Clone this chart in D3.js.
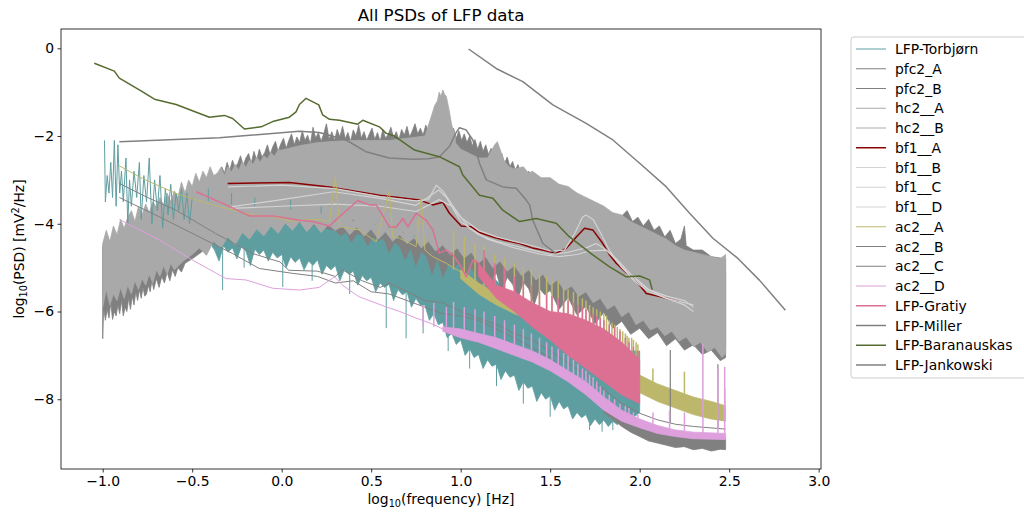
<!DOCTYPE html>
<html><head><meta charset="utf-8">
<script src="https://cdn.jsdelivr.net/npm/d3@7"></script>
<style>body{margin:0;background:#fff}svg{display:block}text{font-family:"DejaVu Sans",sans-serif;fill:#000}</style>
</head><body><svg id="c" width="1024" height="512"></svg>
<script>
// ---------------- DATA (log10 frequency, log10 PSD) ----------------
const seriesNames = ["LFP-Torbjørn","pfc2_A","pfc2_B","hc2__A","hc2__B","bf1__A","bf1__B","bf1__C","bf1__D","ac2__A","ac2__B","ac2__C","ac2__D","LFP-Gratiy","LFP-Miller","LFP-Baranauskas","LFP-Jankowski"];
const xTicks = [-1.0,-0.5,0.0,0.5,1.0,1.5,2.0,2.5,3.0];
const yTicks = [-8,-6,-4,-2,0];

// LFP-Torbjørn
const torbLow = [[-0.99,-2.1],[-0.985,-3.5],[-0.975,-2.9],[-0.965,-3.3],[-0.955,-2.6],[-0.945,-3.4],[-0.935,-2.1],[-0.925,-3.6],[-0.915,-2.2],[-0.905,-3.3],[-0.895,-2.8],[-0.885,-3.5],[-0.87,-2.5],[-0.86,-4.0],[-0.85,-3.0],[-0.84,-3.6],[-0.825,-2.8],[-0.81,-3.4],[-0.795,-2.6],[-0.785,-3.9],[-0.77,-2.9],[-0.755,-3.5],[-0.74,-2.5],[-0.725,-4.0],[-0.71,-3.0],[-0.695,-3.7],[-0.68,-2.9],[-0.665,-4.1],[-0.65,-3.2],[-0.635,-3.8],[-0.62,-3.1],[-0.605,-3.9],[-0.59,-3.3],[-0.575,-3.7],[-0.56,-3.2],[-0.545,-3.9],[-0.53,-3.3],[-0.515,-4.0],[-0.5,-3.4]];
const torbUpper = [[-0.5,-3.4],[-0.4,-3.5],[-0.3,-3.55],[-0.2,-3.6],[-0.1,-3.6],[0.0,-3.65],[0.1,-3.7],[0.27,-3.8],[0.4,-3.9],[0.55,-4.05],[0.7,-4.2],[0.83,-4.4],[0.9,-4.55],[0.95,-4.5],[1.0,-4.75],[1.05,-4.7],[1.1,-4.9],[1.25,-5.5],[1.44,-6.0],[1.63,-6.35],[1.81,-6.8],[1.9,-6.9],[2.0,-6.9]];
const torbLower = [[-0.500,-4.30],[-0.475,-4.55],[-0.450,-4.40],[-0.425,-4.70],[-0.400,-4.45],[-0.375,-4.60],[-0.350,-4.85],[-0.325,-4.50],[-0.300,-4.65],[-0.275,-4.55],[-0.250,-4.80],[-0.225,-4.52],[-0.200,-4.62],[-0.175,-4.95],[-0.150,-4.58],[-0.125,-4.70],[-0.100,-4.60],[-0.075,-4.85],[-0.050,-4.65],[-0.025,-4.78],[0.000,-4.70],[0.025,-5.00],[0.050,-4.75],[0.075,-4.88],[0.100,-4.78],[0.125,-5.05],[0.150,-4.85],[0.175,-4.95],[0.200,-4.82],[0.225,-5.15],[0.250,-4.95],[0.275,-5.05],[0.300,-4.95],[0.325,-5.30],[0.350,-5.05],[0.375,-5.15],[0.400,-5.08],[0.425,-5.40],[0.450,-5.18],[0.475,-5.30],[0.500,-5.22],[0.525,-5.55],[0.550,-5.35],[0.575,-5.45],[0.600,-5.38],[0.625,-5.75],[0.650,-5.50],[0.675,-5.62],[0.700,-5.55],[0.725,-5.90],[0.750,-5.70],[0.775,-5.85],[0.800,-5.85],[0.825,-6.20],[0.850,-6.05],[0.875,-6.30],[0.900,-6.25],[0.925,-6.60],[0.950,-6.50],[0.975,-6.75],[1.000,-6.65],[1.025,-7.00],[1.050,-6.85],[1.075,-7.05],[1.100,-6.98],[1.125,-7.30],[1.150,-7.10],[1.175,-7.25],[1.200,-7.20],[1.225,-7.55],[1.250,-7.35],[1.275,-7.50],[1.300,-7.45],[1.325,-7.80],[1.350,-7.60],[1.375,-7.75],[1.400,-7.70],[1.425,-8.05],[1.450,-7.85],[1.475,-8.00],[1.500,-7.92],[1.525,-8.25],[1.550,-8.05],[1.575,-8.22],[1.600,-8.15],[1.625,-8.45],[1.650,-8.30],[1.675,-8.42],[1.700,-8.35],[1.725,-8.60],[1.750,-8.45],[1.775,-8.58],[1.800,-8.48],[1.825,-8.62],[1.850,-8.50],[1.875,-8.58],[1.900,-8.42],[1.925,-8.52],[1.950,-8.45],[1.975,-8.38],[2.000,-8.30]];
const torbDownX = [-0.33,-0.21,0.006,0.17,0.38,0.584,0.695,0.79,0.93,1.05,1.2,1.35,1.5,1.72,1.79,1.85];
const torbDownY = [-5.51,-5.0,-5.44,-5.3,-5.6,-6.38,-6.61,-6.5,-6.9,-7.3,-7.7,-8.1,-8.4,-8.7,-8.74,-8.7];
const torbUpX = [-0.41,-0.28,-0.15,0.05,0.22,0.32,0.4,0.52,0.6,0.68,0.74];
const torbUpY = [-3.2,-3.3,-3.4,-3.45,-3.6,-3.85,-3.95,-4.0,-4.05,-4.2,-4.3];

// pfc2_A (darker noisy band, edges show above the light band)
const pfc2AUpper = [[-1.0,-4.5],[-0.6,-3.6],[-0.35,-2.9],[-0.335,-2.70],[-0.32,-2.85],[-0.305,-2.60],[-0.29,-2.78],[-0.275,-2.55],[-0.26,-2.72],[-0.245,-2.62],[-0.23,-2.45],[-0.215,-2.68],[-0.20,-2.50],[-0.185,-2.40],[-0.17,-2.62],[-0.155,-2.35],[-0.14,-2.55],[-0.125,-2.30],[-0.11,-2.48],[-0.095,-2.38],[-0.08,-2.20],[-0.065,-2.42],[-0.05,-2.25],[-0.035,-2.12],[-0.02,-2.35],[-0.005,-2.18],[0.01,-2.05],[0.025,-2.28],[0.04,-2.10],[0.055,-1.95],[0.07,-2.20],[0.085,-2.02],[0.10,-2.15],[0.115,-1.88],[0.13,-2.10],[0.145,-1.98],[0.16,-2.18],[0.175,-1.80],[0.19,-2.05],[0.205,-1.92],[0.22,-2.12],[0.235,-1.95],[0.25,-1.72],[0.265,-2.08],[0.28,-1.90],[0.295,-2.10],[0.31,-1.85],[0.325,-2.02],[0.34,-1.78],[0.355,-2.06],[0.37,-1.92],[0.385,-2.12],[0.40,-1.86],[0.415,-2.00],[0.43,-1.75],[0.445,-2.05],[0.46,-1.90],[0.475,-2.10],[0.49,-1.95],[0.505,-1.82],[0.52,-2.08],[0.535,-1.92],[0.55,-2.12],[0.565,-1.85],[0.58,-2.05],[0.595,-1.96],[0.61,-1.80],[0.625,-2.04],[0.64,-1.90],[0.655,-2.08],[0.67,-1.85],[0.685,-1.98],[0.70,-1.78],[0.715,-2.02],[0.73,-1.88],[0.745,-1.72],[0.76,-1.95],[0.775,-1.82],[0.79,-1.98],[0.805,-1.75],[0.82,-1.90],[0.835,-1.70],[0.85,-1.85],[0.87,-1.75],[0.89,-1.80],[0.91,-1.70],[0.93,-1.85],[0.945,-1.95],[0.96,-1.82],[0.975,-2.05],[0.99,-1.88],[1.005,-2.10],[1.02,-1.95],[1.035,-2.15],[1.05,-2.00],[1.065,-2.22],[1.08,-2.08],[1.095,-2.30],[1.11,-2.12],[1.125,-2.35],[1.14,-2.20],[1.155,-2.42],[1.17,-2.28],[1.185,-2.45],[1.20,-2.35],[1.215,-2.55],[1.23,-2.40],[1.245,-2.62],[1.26,-2.48],[1.275,-2.70],[1.29,-2.58],[1.305,-2.78],[1.32,-2.65],[1.335,-2.85],[1.35,-2.75],[1.365,-2.92],[1.38,-2.80],[1.40,-2.98],[1.42,-2.88],[1.45,-3.05],[1.5,-3.1],[1.6,-3.3],[1.7,-3.5],[1.8,-3.7],[1.9,-3.82],[1.93,-3.7],[1.96,-3.95],[1.99,-3.85],[2.02,-4.05],[2.05,-3.9],[2.08,-4.15],[2.11,-4.05],[2.14,-4.3],[2.17,-4.15],[2.2,-4.45],[2.23,-4.35],[2.25,-4.05],[2.26,-4.5],[2.3,-4.6],[2.35,-4.6],[2.4,-4.75],[2.48,-4.8]];
const pfc2ALower = [[-1.0,-6.62],[-0.995,-5.9],[-0.985,-6.2],[-0.975,-5.95],[-0.965,-6.15],[-0.955,-5.8],[-0.945,-6.18],[-0.935,-6.0],[-0.925,-6.1],[-0.915,-5.85],[-0.905,-6.05],[-0.895,-5.75],[-0.885,-6.1],[-0.875,-5.9],[-0.865,-6.0],[-0.855,-5.7],[-0.845,-5.95],[-0.835,-5.65],[-0.825,-5.85],[-0.815,-5.55],[-0.805,-5.75],[-0.795,-5.5],[-0.785,-5.7],[-0.775,-5.45],[-0.765,-5.65],[-0.755,-5.6],[-0.745,-5.4],[-0.735,-5.55],[-0.725,-5.3],[-0.715,-5.5],[-0.70,-5.25],[-0.685,-5.45],[-0.67,-5.2],[-0.655,-5.35],[-0.64,-5.1],[-0.625,-5.3],[-0.61,-5.05],[-0.595,-5.2],[-0.58,-5.0],[-0.56,-5.1],[-0.54,-4.9],[-0.5,-4.8],[-0.4,-4.5],[-0.3,-4.2],[0.0,-3.8],[0.5,-3.9],[1.0,-4.4],[1.5,-5.0],[2.0,-6.0],[2.48,-6.8]];

// pfc2_B (darker noise below the main band)
const pfc2BUpper = [[-1.0,-4.6],[-0.5,-3.3],[0.0,-2.6],[0.3,-2.4],[0.8,-2.4],[1.3,-3.0],[2.0,-4.3],[2.48,-5.1]];
const pfc2BLower = [[-1.0,-5.6],[-0.5,-4.6],[0.0,-3.9],[0.30,-4.15],[0.33,-4.28],[0.36,-4.18],[0.39,-4.42],[0.42,-4.22],[0.45,-4.26],[0.48,-4.50],[0.51,-4.30],[0.54,-4.38],[0.57,-4.33],[0.60,-4.66],[0.63,-4.42],[0.66,-4.52],[0.69,-4.82],[0.72,-4.55],[0.75,-4.95],[0.78,-4.62],[0.81,-4.75],[0.84,-5.15],[0.87,-4.78],[0.90,-5.22],[0.93,-4.92],[0.96,-5.02],[0.99,-4.88],[1.02,-5.28],[1.05,-4.98],[1.08,-5.12],[1.11,-5.45],[1.14,-5.08],[1.17,-5.28],[1.20,-5.12],[1.23,-5.55],[1.26,-5.22],[1.29,-5.38],[1.32,-5.70],[1.35,-5.33],[1.38,-5.48],[1.41,-5.85],[1.44,-5.48],[1.47,-5.62],[1.50,-5.52],[1.55,-5.95],[1.60,-5.68],[1.65,-6.08],[1.70,-5.88],[1.75,-6.28],[1.80,-6.02],[1.85,-6.38],[1.90,-6.22],[1.95,-6.52],[2.00,-6.38],[2.05,-6.62],[2.10,-6.48],[2.15,-6.78],[2.20,-6.62],[2.25,-6.88],[2.30,-6.76],[2.35,-6.98],[2.40,-6.88],[2.45,-7.12],[2.48,-7.05]];

// hc2__A (main light band)
const hc2AUpper = [[-1.00,-4.45],[-0.98,-4.15],[-0.96,-4.40],[-0.94,-4.05],[-0.92,-4.25],[-0.90,-3.90],[-0.88,-4.10],[-0.86,-3.85],[-0.84,-3.70],[-0.82,-3.95],[-0.80,-3.60],[-0.78,-3.80],[-0.76,-3.55],[-0.74,-3.75],[-0.72,-3.50],[-0.70,-3.62],[-0.68,-3.40],[-0.66,-3.58],[-0.64,-3.30],[-0.62,-3.50],[-0.60,-3.25],[-0.58,-3.40],[-0.56,-3.05],[-0.54,-3.30],[-0.52,-3.00],[-0.50,-3.15],[-0.48,-2.85],[-0.46,-3.05],[-0.44,-2.80],[-0.42,-2.95],[-0.40,-2.70],[-0.38,-2.90],[-0.36,-2.85],[-0.34,-2.72],[-0.32,-2.90],[-0.30,-2.70],[-0.28,-2.82],[-0.26,-2.65],[-0.24,-2.78],[-0.22,-2.58],[-0.20,-2.72],[-0.18,-2.55],[-0.16,-2.65],[-0.14,-2.48],[-0.12,-2.60],[-0.10,-2.45],[-0.08,-2.52],[-0.06,-2.38],[-0.04,-2.46],[-0.02,-2.32],[0.0,-2.32],[0.1,-2.22],[0.2,-2.15],[0.3,-2.12],[0.4,-2.1],[0.5,-2.1],[0.6,-2.1],[0.7,-2.05],[0.8,-2.0],[0.9,-2.0],[0.95,-2.05],[1.0,-2.3],[1.05,-2.4],[1.1,-2.5],[1.15,-2.5],[1.17,-2.35],[1.19,-2.2],[1.205,-2.13],[1.22,-2.3],[1.24,-2.55],[1.27,-2.7],[1.3,-2.75],[1.35,-2.7],[1.38,-2.85],[1.4,-2.8],[1.45,-2.95],[1.5,-2.95],[1.55,-3.1],[1.6,-3.15],[1.65,-3.3],[1.7,-3.4],[1.75,-3.5],[1.8,-3.6],[1.85,-3.75],[1.9,-3.8],[1.95,-3.95],[2.0,-4.05],[2.05,-4.15],[2.1,-4.25],[2.15,-4.35],[2.2,-4.5],[2.25,-4.6],[2.3,-4.65],[2.35,-4.7],[2.4,-4.75],[2.45,-4.8],[2.48,-4.7]];
const hc2ALower = [[-1.0,-5.9],[-0.98,-5.5],[-0.96,-5.85],[-0.94,-5.6],[-0.92,-5.75],[-0.90,-5.45],[-0.88,-5.7],[-0.86,-5.4],[-0.84,-5.6],[-0.82,-5.3],[-0.80,-5.5],[-0.78,-5.25],[-0.76,-5.4],[-0.74,-5.15],[-0.72,-5.35],[-0.70,-5.05],[-0.68,-5.2],[-0.66,-4.95],[-0.64,-5.15],[-0.62,-4.9],[-0.60,-5.05],[-0.55,-4.85],[-0.50,-4.70],[-0.46,-4.55],[-0.42,-4.72],[-0.38,-4.40],[-0.34,-4.55],[-0.30,-4.30],[-0.26,-4.48],[-0.22,-4.20],[-0.18,-4.35],[-0.14,-4.12],[-0.10,-4.28],[-0.06,-4.05],[-0.02,-4.22],[0.02,-3.98],[0.06,-4.15],[0.10,-3.95],[0.14,-4.18],[0.18,-4.00],[0.22,-4.20],[0.26,-4.02],[0.30,-4.15],[0.34,-4.05],[0.38,-4.25],[0.42,-4.08],[0.46,-4.28],[0.50,-4.12],[0.54,-4.35],[0.58,-4.18],[0.62,-4.40],[0.66,-4.25],[0.70,-4.45],[0.74,-4.32],[0.78,-4.55],[0.82,-4.40],[0.86,-4.62],[0.90,-4.48],[0.94,-4.70],[0.98,-4.55],[1.02,-4.78],[1.06,-4.65],[1.10,-4.90],[1.14,-4.75],[1.18,-5.00],[1.22,-4.85],[1.26,-5.08],[1.30,-4.95],[1.34,-5.18],[1.38,-5.05],[1.42,-5.28],[1.46,-5.15],[1.50,-5.40],[1.54,-5.28],[1.58,-5.52],[1.62,-5.42],[1.66,-5.65],[1.70,-5.55],[1.74,-5.80],[1.78,-5.70],[1.82,-5.95],[1.86,-5.85],[1.90,-6.12],[1.94,-6.00],[1.98,-6.30],[2.02,-6.20],[2.06,-6.42],[2.10,-6.35],[2.14,-6.55],[2.18,-6.45],[2.22,-6.68],[2.26,-6.58],[2.30,-6.80],[2.34,-6.70],[2.38,-6.92],[2.42,-6.82],[2.46,-7.05],[2.48,-6.95]];
// hc2__B (alpha peak)
const hc2BUpper = [[0.80,-2.0],[0.82,-1.75],[0.84,-1.5],[0.855,-1.3],[0.87,-1.2],[0.88,-1.0],[0.89,-1.1],[0.90,-0.95],[0.91,-1.05],[0.92,-1.1],[0.935,-1.4],[0.95,-1.75],[0.97,-2.0]];
const hc2BLower = [[0.80,-3.0],[0.97,-3.0]];

// bf1 series
const bf1A = [[-0.302,-3.08],[0.043,-3.06],[0.267,-3.16],[0.546,-3.35],[0.77,-3.46],[0.844,-3.57],[0.9,-3.51],[0.937,-3.76],[1.003,-4.05],[1.06,-4.07],[1.105,-4.2],[1.18,-4.30],[1.25,-4.38],[1.329,-4.45],[1.40,-4.55],[1.459,-4.60],[1.534,-4.67],[1.59,-4.56],[1.646,-4.30],[1.692,-4.10],[1.738,-4.14],[1.794,-4.45],[1.83,-4.7],[1.869,-4.90],[1.92,-5.1],[1.962,-5.21],[2.0,-5.4],[2.037,-5.59],[2.111,-5.66],[2.222,-5.78]];
const bf1B = [[-0.30,-3.16],[0.0,-3.12],[0.3,-3.2],[0.55,-3.38],[0.75,-3.48],[0.82,-3.45],[0.863,-3.12],[0.9,-3.25],[0.95,-3.55],[1.0,-3.85],[1.1,-4.15],[1.2,-4.3],[1.3,-4.4],[1.4,-4.5],[1.5,-4.62],[1.58,-4.6],[1.64,-4.2],[1.68,-3.85],[1.70,-3.80],[1.74,-3.9],[1.78,-4.2],[1.83,-4.6],[1.9,-5.0],[1.97,-5.3],[2.05,-5.55],[2.15,-5.7],[2.25,-5.8],[2.3,-5.85]];
const bf1C = [[-0.28,-3.61],[0.0,-3.45],[0.29,-3.27],[0.55,-3.42],[0.75,-3.58],[0.878,-3.23],[0.92,-3.4],[1.0,-3.95],[1.1,-4.25],[1.2,-4.4],[1.3,-4.5],[1.4,-4.6],[1.5,-4.7],[1.6,-4.65],[1.7,-4.55],[1.757,-4.45],[1.8,-4.55],[1.85,-4.75],[1.95,-5.2],[2.05,-5.5],[2.15,-5.65],[2.25,-5.75],[2.3,-5.9]];
const bf1D = [[-0.28,-3.65],[0.0,-3.6],[0.3,-3.55],[0.55,-3.6],[0.75,-3.72],[0.88,-3.45],[0.95,-3.6],[1.05,-4.1],[1.15,-4.35],[1.3,-4.55],[1.45,-4.7],[1.55,-4.75],[1.65,-4.7],[1.72,-4.62],[1.813,-4.60],[1.87,-4.8],[1.95,-5.15],[2.05,-5.5],[2.15,-5.7],[2.25,-5.85],[2.3,-6.0]];

// ac2 series
const ac2ALine = [[-0.907,-2.68],[-0.777,-2.97],[-0.59,-3.31],[-0.442,-3.50],[-0.311,-3.65],[-0.162,-3.80],[-0.05,-3.84],[0.061,-3.95],[0.099,-3.92],[0.21,-3.90],[0.267,-3.95],[0.30,-2.93],[0.323,-4.07],[0.434,-4.14],[0.528,-4.41],[0.602,-3.23],[0.62,-4.3],[0.658,-4.33],[0.751,-4.52],[0.779,-3.42],[0.80,-4.6],[0.844,-4.75],[0.919,-4.90],[1.012,-5.13]];
const ac2AUpper = [[1.0,-5.05],[1.1,-5.35],[1.2,-5.6],[1.3,-5.8],[1.4,-5.95],[1.5,-6.1],[1.6,-6.3],[1.7,-6.5],[1.8,-6.75],[1.9,-7.1],[2.0,-7.45],[2.05,-7.55],[2.1,-7.65],[2.2,-7.8],[2.3,-7.95],[2.4,-8.05],[2.48,-8.15]];
const ac2ALower = [[1.0,-5.25],[1.1,-5.6],[1.2,-5.85],[1.3,-6.05],[1.4,-6.2],[1.5,-6.4],[1.6,-6.6],[1.7,-6.85],[1.8,-7.1],[1.9,-7.45],[2.0,-7.85],[2.05,-7.95],[2.1,-8.05],[2.2,-8.2],[2.3,-8.35],[2.4,-8.45],[2.48,-8.5]];
const harmX = [0.96,1.02,1.08,1.13,1.19,1.245,1.30,1.35,1.395,1.44,1.48,1.51,1.545,1.575,1.60,1.63,1.655,1.68,1.70,1.72,1.74,1.76,1.78,1.80,1.815,1.83,1.845,1.86,1.875,1.89,1.905,1.92,1.93,1.94,1.955,1.965,1.98,1.99,2.074,2.25,2.475];
const ac2ASpikeTop = [-4.15,-4.3,-4.45,-4.5,-4.7,-4.8,-4.9,-5.0,-5.05,-5.15,-5.2,-5.3,-5.3,-5.45,-5.5,-5.55,-5.6,-5.7,-5.75,-5.85,-5.9,-5.95,-6.0,-6.05,-6.1,-6.2,-6.25,-6.3,-6.35,-6.4,-6.45,-6.5,-6.55,-6.6,-6.6,-6.65,-6.7,-6.75,-7.3,-7.37,-7.75];
const ac2BLine = [[-0.907,-3.08],[-0.75,-3.4],[-0.59,-3.69],[-0.37,-4.22],[-0.16,-4.68],[-0.01,-4.87],[0.04,-5.06],[0.2,-5.08],[0.3,-5.2],[0.34,-5.05],[0.45,-5.3],[0.55,-5.45],[0.6,-5.35],[0.7,-5.55],[0.8,-5.75],[0.9,-5.8],[1.0,-6.0],[1.1,-6.15],[1.2,-6.3],[1.3,-6.5],[1.4,-6.65],[1.5,-6.9],[1.7,-7.45],[1.9,-8.1],[2.0,-8.32],[2.1,-8.47],[2.2,-8.57],[2.3,-8.62],[2.48,-8.68]];
const ac2BSpikeX = [2.171,2.437];
const ac2BSpikeTop = [-6.88,-7.2];
const ac2CLine = [[-0.907,-3.40],[-0.684,-3.84],[-0.46,-4.30],[-0.274,-4.68],[-0.125,-5.02],[0.061,-5.13],[0.2,-5.2],[0.3,-5.35],[0.4,-5.3],[0.5,-5.55],[0.6,-5.6],[0.7,-5.75],[0.8,-5.9],[0.9,-6.05],[1.0,-6.1],[1.1,-6.2],[1.3,-6.6],[1.5,-7.05],[1.7,-7.75],[1.8,-8.1]];
const ac2CUpper = [[1.8,-8.15],[1.9,-8.45],[2.0,-8.62],[2.1,-8.75],[2.2,-8.82],[2.3,-8.86],[2.4,-8.88],[2.48,-8.88]];
const ac2CLower = [[1.8,-8.3],[1.9,-8.62],[1.95,-8.75],[2.0,-8.85],[2.05,-8.95],[2.1,-9.0],[2.15,-9.05],[2.2,-9.1],[2.25,-9.08],[2.3,-9.15],[2.35,-9.12],[2.4,-9.18],[2.45,-9.14],[2.48,-9.15]];
const ac2DLine = [[-0.907,-3.90],[-0.684,-4.37],[-0.497,-4.83],[-0.311,-5.25],[-0.2,-5.28],[-0.05,-5.47],[0.1,-5.51],[0.21,-5.45],[0.295,-5.21],[0.34,-5.40],[0.43,-5.66],[0.58,-5.89],[0.66,-6.0],[0.75,-6.15],[0.8,-6.22],[0.85,-6.3],[0.9,-6.4]];
const ac2DUpper = [[0.9,-6.35],[1.0,-6.4],[1.1,-6.5],[1.2,-6.6],[1.3,-6.75],[1.4,-6.9],[1.5,-7.1],[1.6,-7.35],[1.7,-7.6],[1.8,-7.95],[1.9,-8.25],[2.0,-8.45],[2.1,-8.6],[2.2,-8.7],[2.3,-8.75],[2.48,-8.78]];
const ac2DLower = [[0.9,-6.45],[1.0,-6.6],[1.1,-6.7],[1.2,-6.85],[1.3,-7.0],[1.4,-7.15],[1.5,-7.35],[1.6,-7.6],[1.7,-7.9],[1.8,-8.25],[1.9,-8.5],[2.0,-8.65],[2.1,-8.78],[2.2,-8.85],[2.3,-8.9],[2.48,-8.92]];
const ac2DSpikeX = [0.79,0.85,0.92,0.96,1.02,1.08,1.13,1.19,1.245,1.30,1.35,1.395,1.44,1.48,1.51,1.545,1.575,1.60,1.63,1.655,1.68,1.70,1.72,1.74,1.76,1.78,1.80,1.83,1.86,1.89,1.92,1.94,1.965,1.99,2.074,2.167,2.25,2.353,2.437,2.475];
const ac2DSpikeTop = [-5.85,-5.8,-5.9,-5.78,-5.9,-5.95,-6.0,-6.1,-6.2,-6.3,-6.4,-6.5,-6.6,-6.7,-6.8,-6.85,-6.95,-7.0,-7.1,-7.2,-7.3,-7.35,-7.45,-7.5,-7.6,-7.7,-7.8,-7.9,-8.0,-8.1,-8.15,-8.2,-8.3,-8.35,-8.3,-8.25,-8.3,-6.73,-7.3,-7.26];

// LFP-Gratiy
const gratiyLine = [[-0.478,-3.27],[-0.311,-3.57],[-0.18,-3.82],[-0.05,-3.82],[0.099,-3.92],[0.173,-3.95],[0.267,-4.05],[0.30,-3.92],[0.425,-3.47],[0.49,-3.57],[0.528,-3.57],[0.602,-4.07],[0.639,-4.08],[0.677,-3.88],[0.705,-4.07],[0.751,-3.76],[0.807,-3.92],[0.844,-4.14],[0.881,-4.67],[0.919,-4.60],[0.956,-4.71],[1.003,-4.98],[1.031,-5.21],[1.068,-4.83],[1.105,-4.90]];
const gratiyUpper = [[1.1,-4.9],[1.2,-5.4],[1.3,-5.55],[1.4,-5.8],[1.5,-6.0],[1.6,-6.05],[1.7,-6.2],[1.8,-6.4],[1.9,-6.7],[2.0,-7.1]];
const gratiyLower = [[1.1,-5.2],[1.2,-5.7],[1.3,-6.0],[1.4,-6.35],[1.5,-6.65],[1.6,-7.0],[1.7,-7.3],[1.8,-7.6],[1.9,-7.9],[2.0,-8.1]];
const gratiySpikeX = [1.13,1.19,1.245,1.30,1.35,1.395,1.44,1.48,1.51,1.545,1.575,1.60,1.63,1.655,1.68,1.70,1.72,1.74,1.76,1.78,1.80,1.83,1.86,1.89,1.92,1.94,1.965,1.99];
const gratiySpikeTop = [-4.6,-4.9,-5.0,-5.2,-5.3,-5.4,-5.55,-5.6,-5.65,-5.7,-5.75,-5.75,-5.8,-5.85,-5.9,-5.95,-6.0,-6.05,-6.1,-6.15,-6.2,-6.3,-6.35,-6.45,-6.6,-6.7,-6.8,-6.9];

// LFP-Miller
const miller = [[-0.907,-2.13],[-0.348,-2.04],[0.099,-1.89],[0.21,-1.92],[0.36,-2.09],[0.472,-2.36],[0.6,-2.5],[0.733,-2.53],[0.82,-2.52],[0.881,-2.47],[0.937,-2.24],[0.97,-1.95],[0.993,-1.81],[1.03,-1.86],[1.068,-2.09],[1.105,-2.62],[1.143,-3.0],[1.235,-3.16],[1.31,-3.19],[1.366,-3.46],[1.385,-3.57],[1.403,-3.92],[1.459,-4.45],[1.534,-4.68]];
// LFP-Baranauskas
const baranauskas = [[-1.047,-0.34],[-0.935,-0.52],[-0.907,-0.68],[-0.786,-0.97],[-0.711,-1.16],[-0.59,-1.28],[-0.404,-1.57],[-0.32,-1.53],[-0.274,-1.60],[-0.208,-1.84],[-0.115,-1.79],[-0.05,-1.67],[0.043,-1.57],[0.08,-1.45],[0.099,-1.28],[0.136,-1.14],[0.207,-1.29],[0.229,-1.52],[0.267,-1.62],[0.323,-1.64],[0.425,-1.73],[0.453,-1.64],[0.546,-1.79],[0.584,-1.94],[0.63,-2.0],[0.742,-2.32],[0.88,-2.47],[0.993,-2.70],[1.012,-2.89],[1.105,-3.35],[1.18,-3.42],[1.235,-3.69],[1.329,-3.95],[1.422,-3.88],[1.534,-3.99],[1.608,-4.30],[1.738,-4.71],[1.832,-4.98],[1.925,-5.21],[2.0,-5.19],[2.055,-5.28],[2.07,-5.5]];
// LFP-Jankowski
const jankowski = [[1.044,-0.016],[1.198,-0.46],[1.347,-0.76],[1.515,-1.29],[1.701,-1.71],[1.85,-2.09],[2.0,-2.62],[2.149,-3.16],[2.279,-3.76],[2.409,-4.33],[2.549,-4.79],[2.67,-5.29],[2.814,-5.97]];

// ---------------- STYLE ----------------
const colors = {torb:"#5f9ea0", gray:"#808080", dgray:"#a9a9a9", lgray:"#d3d3d3", red:"#8b0000", khaki:"#bdb76b", plum:"#dda0dd", pink:"#db7093", olive:"#556b2f"};
const legendColors = [colors.torb,colors.gray,colors.gray,colors.dgray,colors.dgray,colors.red,colors.lgray,colors.lgray,colors.lgray,colors.khaki,colors.gray,colors.gray,colors.plum,colors.pink,colors.gray,colors.olive,colors.gray];
const legendWidths = [1,1,1,1,1,1.5,1,1,1,1,1,1,1,1.5,1.5,1.5,1.5];

// ---------------- DRAW ----------------
const M = {l:61, r:821, t:29, b:469};
const x = d3.scaleLinear().domain([-1.233, 3.013]).range([M.l, M.r]);
const y = d3.scaleLinear().domain([-9.59, 0.44]).range([M.b, M.t]);
const svg = d3.select("#c");
svg.append("defs").append("clipPath").attr("id","clip").append("rect")
  .attr("x",M.l).attr("y",M.t).attr("width",M.r-M.l).attr("height",M.b-M.t);
const plot = svg.append("g").attr("clip-path","url(#clip)");
const line = d3.line().x(d=>x(d[0])).y(d=>y(d[1]));
function drawLine(pts,color,w){
  plot.append("path").attr("d",line(pts)).attr("fill","none").attr("stroke",color)
    .attr("stroke-width",w).attr("stroke-linejoin","round");
}
function drawBand(up,lo,color){
  plot.append("path").attr("d",line(up.concat(lo.slice().reverse()))+"Z")
    .attr("fill",color).attr("stroke",color).attr("stroke-width",0.8).attr("stroke-linejoin","miter");
}
function interp(pts,xv){
  if(xv<=pts[0][0]) return pts[0][1];
  for(let i=1;i<pts.length;i++){ if(xv<=pts[i][0]){const a=pts[i-1],b=pts[i];return a[1]+(xv-a[0])/(b[0]-a[0])*(b[1]-a[1]);} }
  return pts[pts.length-1][1];
}
function drawSpikes(xs,tops,base,color,w){
  xs.forEach((xv,i)=>{
    plot.append("line").attr("x1",x(xv)).attr("x2",x(xv))
      .attr("y1",y(interp(base,xv))).attr("y2",y(tops[i]))
      .attr("stroke",color).attr("stroke-width",w);
  });
}

drawBand(torbUpper,torbLower,colors.torb);
drawBand(pfc2AUpper,pfc2ALower,colors.gray);
drawBand(pfc2BUpper,pfc2BLower,colors.gray);
drawBand(hc2AUpper,hc2ALower,colors.dgray);
drawBand(hc2BUpper,hc2BLower,colors.dgray);
drawLine(torbLow,colors.torb,1);
drawSpikes(torbDownX,torbDownY,torbLower,colors.torb,1);
drawSpikes(torbUpX,torbUpY,torbUpper,colors.torb,1);
drawLine(bf1A,colors.red,1.5);
drawLine(bf1B,colors.lgray,1.2);
drawLine(bf1C,colors.lgray,1.2);
drawLine(bf1D,colors.lgray,1.2);
drawLine(ac2ALine,colors.khaki,1);
drawBand(ac2AUpper,ac2ALower,colors.khaki);
drawSpikes(harmX,ac2ASpikeTop,ac2AUpper,colors.khaki,1.5);
drawLine(ac2BLine,colors.gray,1);
drawSpikes(ac2BSpikeX,ac2BSpikeTop,ac2BLine,colors.gray,1.2);
drawLine(ac2CLine,colors.gray,1);
drawBand(ac2CUpper,ac2CLower,colors.gray);
drawLine(ac2DLine,colors.plum,1);
drawBand(ac2DUpper,ac2DLower,colors.plum);
drawSpikes(ac2DSpikeX,ac2DSpikeTop,ac2DUpper,colors.plum,1.5);
drawLine(gratiyLine,colors.pink,1.5);
drawBand(gratiyUpper,gratiyLower,colors.pink);
drawSpikes(gratiySpikeX,gratiySpikeTop,gratiyUpper,colors.pink,1.5);
drawLine(miller,colors.gray,1.5);
drawLine(baranauskas,colors.olive,1.5);
drawLine(jankowski,colors.gray,1.5);

// Axes frame
svg.append("rect").attr("x",M.l).attr("y",M.t).attr("width",M.r-M.l).attr("height",M.b-M.t)
  .attr("fill","none").attr("stroke","#000").attr("stroke-width",0.8);
const fmtMinus = s => s.replace("-","\u2212");
const xAxis = svg.append("g").attr("transform",`translate(0,${M.b})`)
  .call(d3.axisBottom(x).tickValues(xTicks).tickSize(3.5).tickPadding(3.5).tickFormat(d=>fmtMinus(d3.format(".1f")(d))));
const yAxis = svg.append("g").attr("transform",`translate(${M.l},0)`)
  .call(d3.axisLeft(y).tickValues(yTicks).tickSize(3.5).tickPadding(3.5).tickFormat(d=>fmtMinus(d3.format("d")(d))));
[xAxis,yAxis].forEach(a=>{
  a.select(".domain").remove();
  a.selectAll(".tick line").attr("stroke","#000").attr("stroke-width",0.8);
  a.selectAll(".tick text").attr("font-family","DejaVu Sans").attr("font-size","13.9px").attr("fill","#000");
});

svg.append("text").attr("x",(M.l+M.r)/2).attr("y",21).attr("text-anchor","middle")
  .attr("font-size","16.7px").text("All PSDs of LFP data");
const xl = svg.append("text").attr("x",(M.l+M.r)/2).attr("y",504).attr("text-anchor","middle").attr("font-size","13.9px");
xl.append("tspan").text("log");
xl.append("tspan").attr("font-size","9.7px").attr("dy",3).text("10");
xl.append("tspan").attr("dy",-3).text("(frequency) [Hz]");
const yl = svg.append("text").attr("transform",`translate(24,${(M.t+M.b)/2}) rotate(-90)`)
  .attr("text-anchor","middle").attr("font-size","13.9px");
yl.append("tspan").text("log");
yl.append("tspan").attr("font-size","9.7px").attr("dy",3).text("10");
yl.append("tspan").attr("dy",-3).text("(PSD) [mV");
yl.append("tspan").attr("font-size","9.7px").attr("dy",-5).text("2");
yl.append("tspan").attr("dy",5).text("/Hz]");

const lg = svg.append("g");
lg.append("rect").attr("x",851).attr("y",37).attr("width",200).attr("height",341).attr("rx",3)
  .attr("fill","#fff").attr("fill-opacity",0.8).attr("stroke","#cccccc").attr("stroke-width",1);
seriesNames.forEach((n,i)=>{
  const yy = 49 + i*19.75;
  lg.append("line").attr("x1",856).attr("x2",886).attr("y1",yy).attr("y2",yy)
    .attr("stroke",legendColors[i]).attr("stroke-width",legendWidths[i]);
  lg.append("text").attr("x",895).attr("y",yy+5).attr("font-size","13.9px").text(n);
});
</script></body></html>
